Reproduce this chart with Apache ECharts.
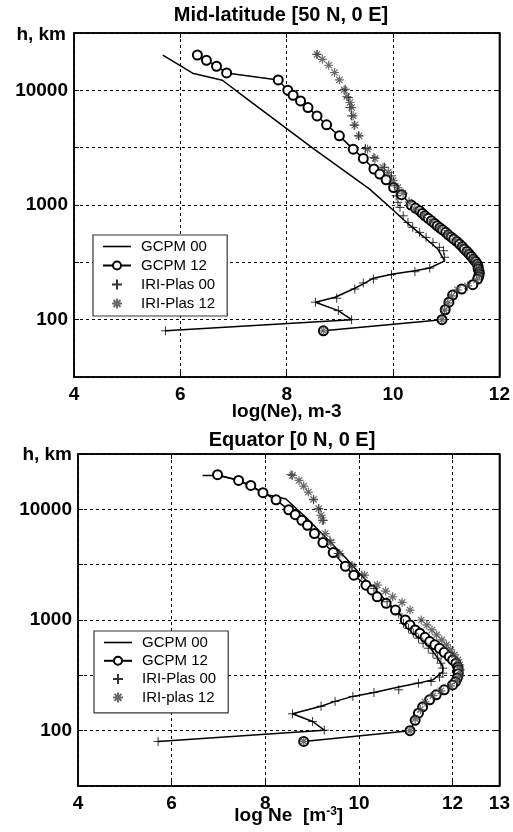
<!DOCTYPE html>
<html>
<head>
<meta charset="utf-8">
<script src="https://cdn.jsdelivr.net/npm/echarts@6/dist/echarts.min.js"></script>
<style>
  html, body { margin: 0; padding: 0; background: #fff; }
  #chart { width: 513px; height: 832px; }
</style>
</head>
<body>
<div id="chart"></div>
<script>
// values are [log Ne, height km]
const midGcpm00 = [[5.67,20300],[6.23,14100],[6.79,12250],[7.29,8180],[8.47,3180],[9.56,1374],[10.03,877],[10.22,728],[10.56,536],[10.84,413],[10.97,326],[10.69,282],[10.41,267],[10.0,250],[9.63,230],[9.44,205],[9.28,188],[8.91,157],[8.54,142],[8.97,120],[9.22,100],[5.72,80]];
const midGcpm12 = [[6.32,20330],[6.49,18280],[6.68,16220],[6.87,14190],[7.84,12330],[8.02,10020],[8.12,9060],[8.26,8090],[8.40,7080],[8.57,5980],[8.75,5000],[8.99,4010],[9.25,3070],[9.44,2550],[9.64,2060],[9.75,1860],[9.87,1660],[10.01,1420],[10.16,1230],[10.34,1000],[10.42,940],[10.50,890],[10.55,845],[10.60,805],[10.66,765],[10.72,728],[10.78,690],[10.83,659],[10.88,632],[10.93,608],[10.99,578],[11.04,550],[11.09,527],[11.14,505],[11.20,480],[11.25,456],[11.30,434],[11.34,413],[11.39,393],[11.43,374],[11.47,356],[11.51,338],[11.55,322],[11.58,306],[11.60,290],[11.60,277],[11.62,262],[11.62,250],[11.61,238],[11.59,226],[11.50,202],[11.29,185],[11.12,164],[11.05,142],[10.98,122],[10.92,100],[8.69,80]];
const midIri00 = [[8.57,20600],[9.10,10230],[9.16,8650],[9.19,7080],[9.22,5990],[9.27,4970],[9.35,4010],[9.48,3110],[9.64,2600],[9.84,2130],[9.97,1795],[10.03,1469],[10.06,1203],[10.09,1055],[10.13,953],[10.19,805],[10.28,705],[10.37,638],[10.50,577],[10.62,522],[10.75,472],[10.87,427],[10.95,399],[10.97,350],[10.69,282],[10.41,262],[9.97,247],[9.63,226],[9.44,209],[9.28,185],[8.94,154],[8.54,142],[8.97,120],[9.22,100],[5.72,80]];
const midIri12 = [[8.57,20600],[8.67,18650],[8.79,16550],[8.90,14300],[8.99,12330],[9.08,10080],[9.13,8830],[9.19,7830],[9.22,7080],[9.25,5990],[9.28,4970],[9.36,4010],[9.52,3070],[9.66,2550],[9.81,2130],[9.91,1925],[10.0,1630],[10.09,1420],[10.19,1270],[10.30,1060],[10.41,920],[10.56,817],[10.71,724],[10.86,642],[11.01,569],[11.16,505],[11.27,448],[11.38,397],[11.48,351],[11.55,312],[11.61,277],[11.63,245],[11.57,222],[11.40,197],[11.21,182],[11.10,161],[11.03,140],[10.97,121],[10.92,100],[8.69,80]];

const eqGcpm00 = [[6.66,20250],[6.98,20250],[7.40,18530],[8.02,13650],[8.44,12390],[8.86,8530],[9.28,5620],[9.70,3715],[10.01,2640],[10.32,1930],[10.60,1462],[10.88,1110],[11.16,841],[11.47,596],[11.68,455],[11.79,380],[11.79,342],[11.58,288],[11.27,269],[10.85,248],[10.32,221],[9.87,204],[9.49,184],[9.19,166],[8.58,142],[9.01,121],[9.26,101],[5.71,80]];
const eqGcpm12 = [[6.98,20560],[7.43,18240],[7.69,16440],[7.95,14130],[8.23,12190],[8.50,9890],[8.64,8950],[8.78,7960],[8.90,7180],[9.05,6040],[9.23,5010],[9.45,4070],[9.71,3060],[9.89,2540],[10.15,2065],[10.28,1862],[10.39,1620],[10.58,1415],[10.78,1230],[10.99,1000],[11.09,902],[11.20,813],[11.30,759],[11.41,698],[11.51,638],[11.62,596],[11.72,556],[11.82,510],[11.93,467],[12.0,436],[12.07,407],[12.11,377],[12.12,355],[12.12,327],[12.10,299],[12.06,276],[12.0,259],[11.82,234],[11.65,211],[11.51,190],[11.36,164],[11.27,144],[11.20,124],[11.09,100],[8.82,80]];
const eqIri00 = [[8.55,20560],[9.03,12220],[9.14,10140],[9.24,7960],[9.38,5260],[9.56,3990],[9.85,3080],[10.06,2540],[10.32,1930],[10.60,1462],[10.85,1133],[10.95,933],[11.06,841],[11.16,759],[11.27,684],[11.37,617],[11.48,556],[11.58,501],[11.68,452],[11.75,407],[11.79,367],[11.79,331],[11.72,305],[11.54,278],[11.27,269],[10.85,234],[10.32,221],[9.87,204],[9.49,184],[9.19,166],[8.58,142],[9.01,121],[9.26,101],[5.71,80]];
const eqIri12 = [[8.58,20250],[8.72,18240],[8.82,16220],[8.92,14320],[9.03,12300],[9.14,10140],[9.19,8830],[9.22,7960],[9.28,6040],[9.40,5010],[9.59,3990],[9.85,3080],[10.12,2540],[10.39,2065],[10.57,1824],[10.72,1620],[10.92,1443],[11.09,1230],[11.33,1000],[11.45,902],[11.56,813],[11.66,733],[11.77,661],[11.87,596],[11.96,537],[12.04,484],[12.11,436],[12.15,393],[12.17,355],[12.15,313],[12.09,282],[11.96,254],[11.75,229],[11.58,207],[11.41,182],[11.31,155],[11.20,128],[11.09,100],[8.82,80]];

const midNames = ['GCPM 00', 'GCPM 12', 'IRI-Plas 00', 'IRI-Plas 12'];
const eqNames = ['GCPM 00', 'GCPM 12', 'IRI-Plas 00', 'IRI-plas 12'];
const heightTicks = [100, 1000, 10000];

const FONT = '"Liberation Sans", Arial, sans-serif';
const plusPath = 'path://M0,-1L0,1M-1,0L1,0';
const starPath = 'path://M0,-1L0,1M-1,0L1,0M-0.7,-0.7L0.7,0.7M-0.7,0.7L0.7,-0.7';
const lineIcon = 'path://M0,0L28,0L28,1.6L0,1.6Z';

function toLog(arr) {
  return arr.map(p => [p[0], Math.log10(p[1])]);
}

function hLabel(v) {
  const h = Math.round(Math.pow(10, v));
  return heightTicks.indexOf(h) >= 0 && Math.abs(v - Math.round(v)) < 1e-6 ? String(h) : '';
}

function xAxes(grid, max, name, nameGap) {
  const base = {
    gridIndex: grid, type: 'value', min: 4, max: max, interval: 2,
    axisLine: { lineStyle: { color: '#000', width: 1.5 } },
    axisTick: { inside: true, length: 5, lineStyle: { color: '#000' } }
  };
  return [
    Object.assign({}, base, {
      position: 'bottom',
      name: name, nameLocation: 'middle', nameGap: nameGap, nameMoveOverlap: false,
      nameTextStyle: {
        color: '#000', fontFamily: FONT, fontWeight: 'bold', fontSize: 19,
        rich: { sup: { fontSize: 12, fontWeight: 'bold', fontFamily: FONT, color: '#000', verticalAlign: 'top', lineHeight: 12 },
                b: { fontSize: 19, fontWeight: 'bold', fontFamily: FONT, color: '#000', lineHeight: 20 } }
      },
      axisLabel: { color: '#000', fontFamily: FONT, fontWeight: 'bold', fontSize: 19, margin: 8 },
      splitLine: { show: true, lineStyle: { color: '#000', type: [3, 3], width: 1 } }
    }),
    Object.assign({}, base, { position: 'top', axisLabel: { show: false }, splitLine: { show: false } })
  ];
}

function yAxes(grid) {
  const base = {
    gridIndex: grid, type: 'value', min: 1.5, max: 4.5, interval: 0.5,
    axisLine: { lineStyle: { color: '#000', width: 1.5 } },
    axisTick: { inside: true, length: 5, lineStyle: { color: '#000' } }
  };
  return [
    Object.assign({}, base, {
      position: 'left',
      axisLabel: { color: '#000', fontFamily: FONT, fontWeight: 'bold', fontSize: 19, margin: 6, formatter: hLabel },
      splitLine: { show: true, lineStyle: { color: '#000', type: [3, 3], width: 1 } }
    }),
    Object.assign({}, base, { position: 'right', axisLabel: { show: false }, splitLine: { show: false } })
  ];
}

function panelSeries(names, xi, yi, d00, d12, i00, i12) {
  return [
    { name: names[0], type: 'line', xAxisIndex: xi, yAxisIndex: yi, data: toLog(d00),
      symbol: 'none', lineStyle: { color: '#000', width: 1.5 }, itemStyle: { color: '#000' }, z: 2 },
    { name: names[1], type: 'line', xAxisIndex: xi, yAxisIndex: yi, data: toLog(d12),
      symbol: 'emptyCircle', symbolSize: 9, lineStyle: { color: '#000', width: 1.5 },
      itemStyle: { color: '#000', borderColor: '#000', borderWidth: 1.3 }, z: 3 },
    { name: names[2], type: 'scatter', xAxisIndex: xi, yAxisIndex: yi, data: toLog(i00),
      symbol: plusPath, symbolSize: 9, symbolKeepAspect: true,
      itemStyle: { color: 'transparent', borderColor: '#000', borderWidth: 1 }, z: 4 },
    { name: names[3], type: 'scatter', xAxisIndex: xi, yAxisIndex: yi, data: toLog(i12),
      symbol: starPath, symbolSize: 9, symbolKeepAspect: true,
      itemStyle: { color: 'transparent', borderColor: '#444', borderWidth: 1.2 }, z: 5 }
  ];
}

function legendBox(names, left, top, gap, padBottom) {
  return {
    data: [{ name: names[0], icon: lineIcon }, names[1], names[2], names[3]],
    orient: 'vertical', left: left, top: top,
    itemWidth: 28, itemHeight: 10, itemGap: gap, symbolKeepAspect: true,
    padding: [4, 12, padBottom, 9],
    borderColor: '#333', borderWidth: 1.2, backgroundColor: '#fff',
    textStyle: { color: '#000', fontFamily: FONT, fontSize: 15, padding: [0, 0, 0, 5] },
    selectedMode: false
  };
}

const chart = echarts.init(document.getElementById('chart'), null, { renderer: 'canvas' });
chart.setOption({
  animation: false,
  backgroundColor: '#fff',
  graphic: [
    { type: 'text', x: 281, y: 15, style: { text: 'Mid-latitude [50 N, 0 E]', font: 'bold 20px ' + FONT, fill: '#000', textAlign: 'center', textVerticalAlign: 'middle' } },
    { type: 'text', x: 66, y: 35, style: { text: 'h, km', font: 'bold 19px ' + FONT, fill: '#000', textAlign: 'right', textVerticalAlign: 'middle' } },
    { type: 'text', x: 292, y: 440, style: { text: 'Equator [0 N, 0 E]', font: 'bold 20px ' + FONT, fill: '#000', textAlign: 'center', textVerticalAlign: 'middle' } },
    { type: 'text', x: 72, y: 455, style: { text: 'h, km', font: 'bold 19px ' + FONT, fill: '#000', textAlign: 'right', textVerticalAlign: 'middle' } }
  ],
  grid: [
    { left: 74, top: 33, width: 428, height: 344, show: true, borderColor: '#000', borderWidth: 1.5, containLabel: false },
    { left: 78, top: 454, width: 430, height: 332, show: true, borderColor: '#000', borderWidth: 1.5, containLabel: false }
  ],
  xAxis: xAxes(0, 12, 'log(Ne), m-3', 25).concat(xAxes(1, 13, '{b|log Ne  [m}{sup|-3}{b|]}', 20)),
  yAxis: yAxes(0).concat(yAxes(1)),
  legend: [
    legendBox(midNames, 93, 235, 4, 5),
    legendBox(eqNames, 94, 631, 3.3, 8)
  ],
  series: panelSeries(midNames, 0, 0, midGcpm00, midGcpm12, midIri00, midIri12)
    .concat(panelSeries(eqNames, 2, 2, eqGcpm00, eqGcpm12, eqIri00, eqIri12))
});
</script>
</body>
</html>
